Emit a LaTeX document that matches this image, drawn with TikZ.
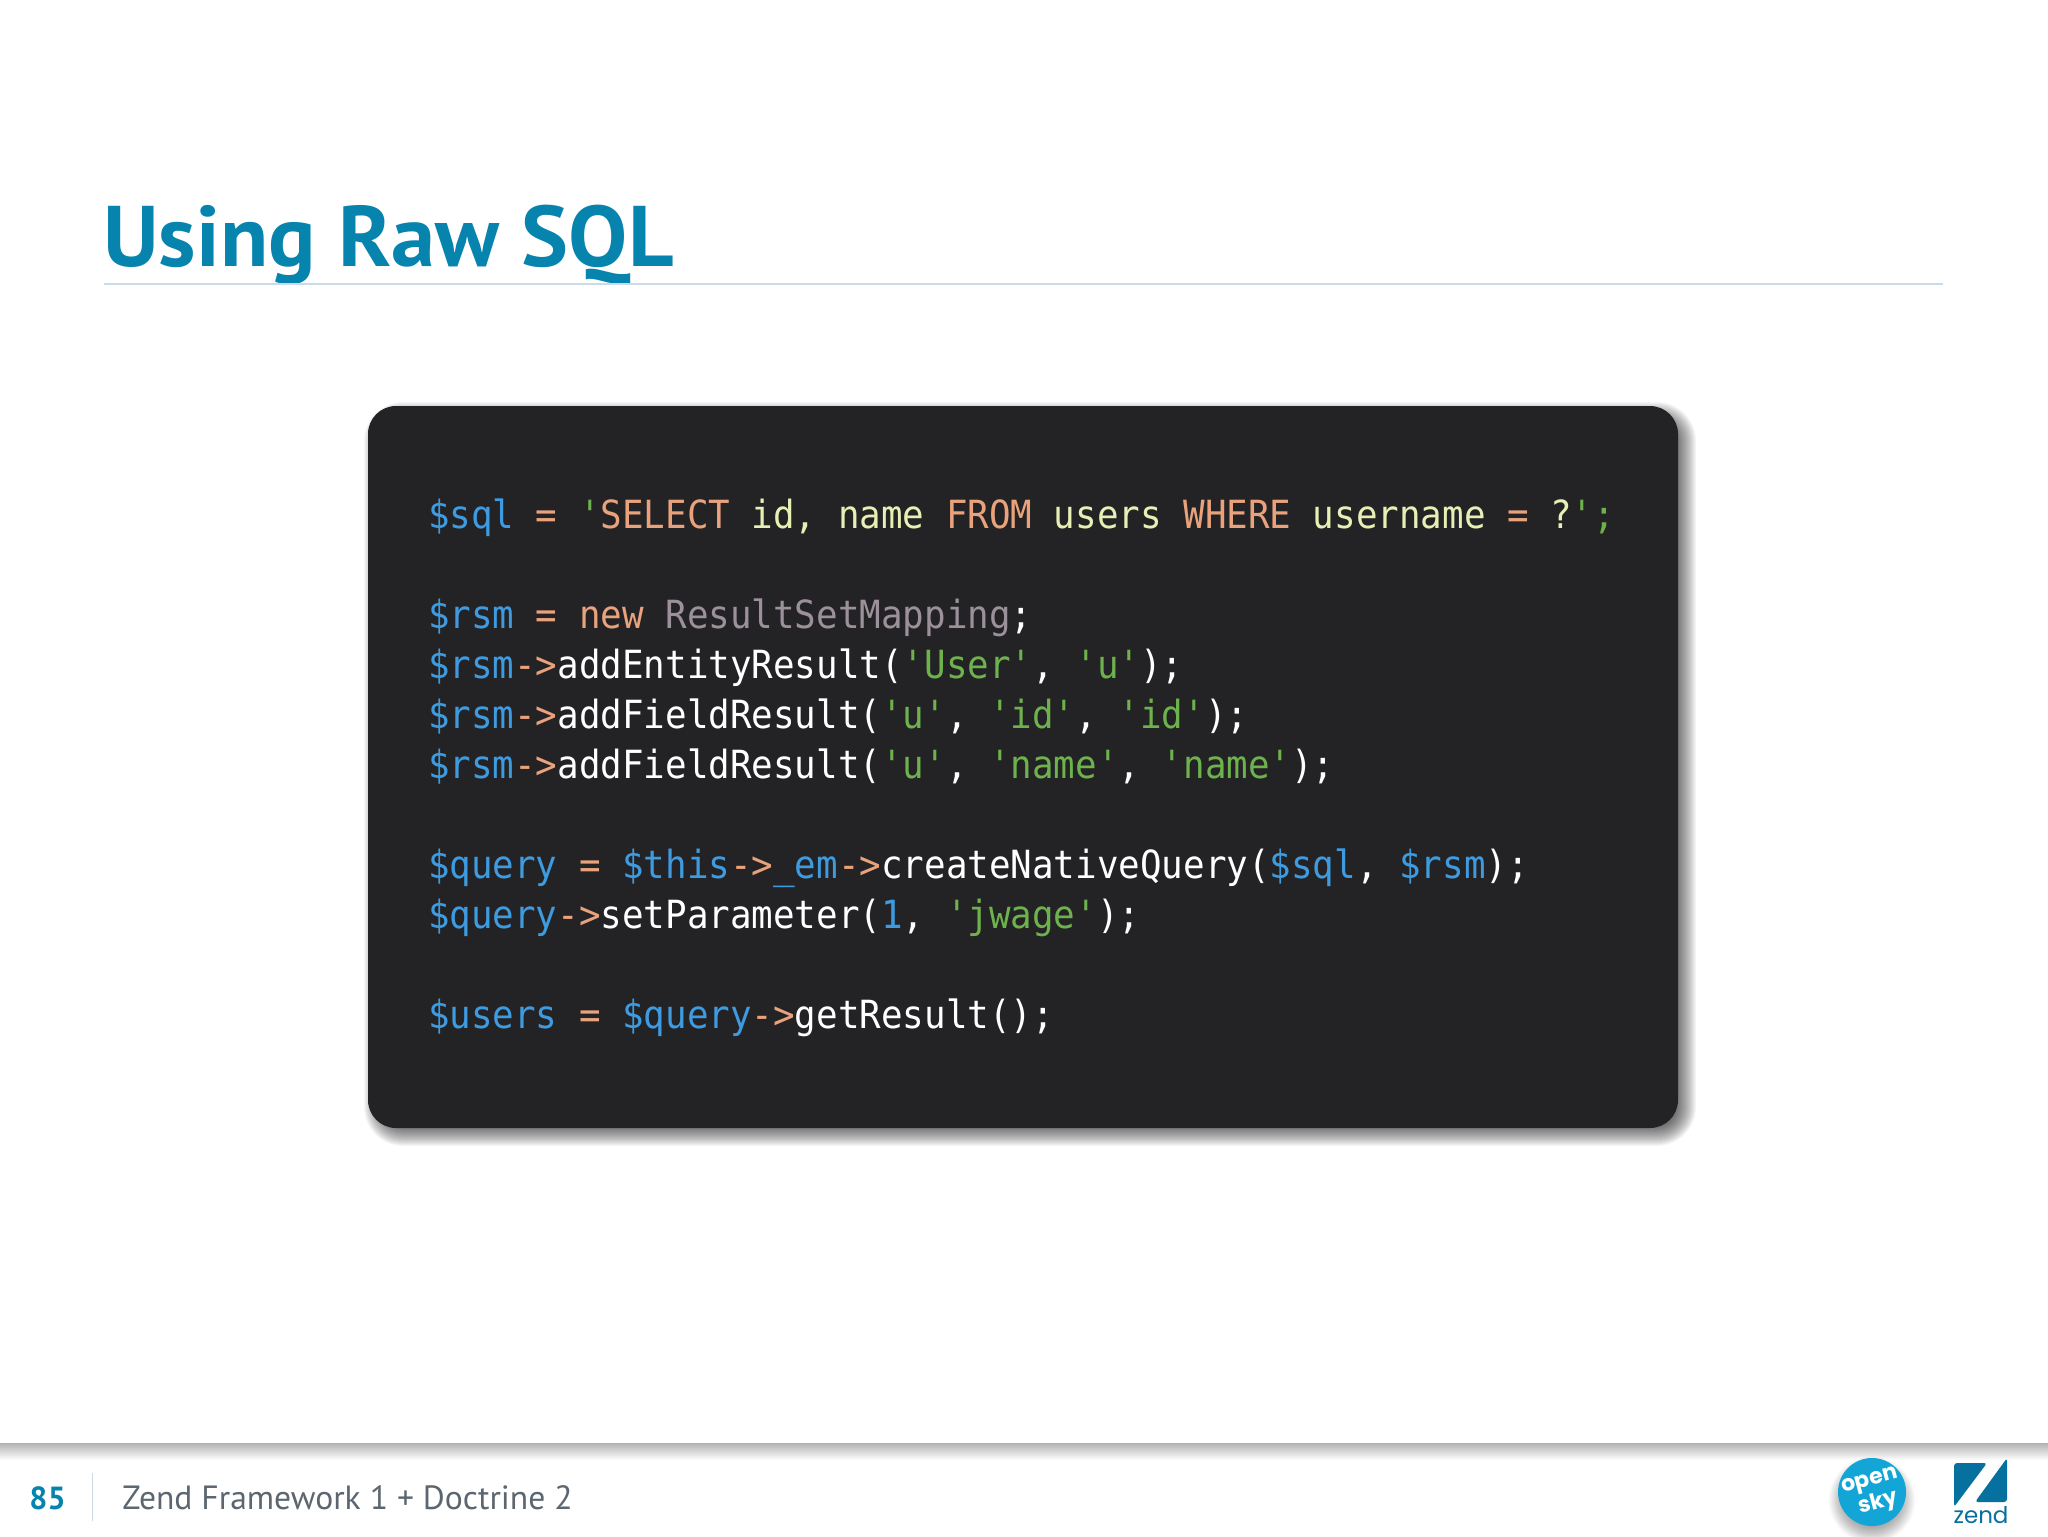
\documentclass[tikz,border=0pt]{standalone}
\usepackage{fontspec}
\usetikzlibrary{shadings,fadings}
\setmainfont{PT Sans}
\newfontfamily\titlefont[FakeStretch=1.03]{PT Sans}
\newfontfamily\codefont[FakeStretch=0.924]{DejaVu Sans Mono}
\newfontfamily\logofont{Poppins}
\definecolor{titleblue}{HTML}{0684AE}
\definecolor{rulecol}{HTML}{C9DAE9}
\definecolor{panel}{HTML}{232325}
\definecolor{cblue}{HTML}{3E9BE0}
\definecolor{corange}{HTML}{E9A27C}
\definecolor{cpale}{HTML}{E8EFB4}
\definecolor{cgreen}{HTML}{6DB24C}
\definecolor{cgrey}{HTML}{9C919A}
\definecolor{cwhite}{HTML}{FFFFFF}
\definecolor{footgrey}{HTML}{5B6670}
\definecolor{oskyblue}{HTML}{13A5D6}
\definecolor{zendblue}{HTML}{06709E}
\newcommand{\B}[1]{\textcolor{cblue}{#1}}
\newcommand{\Or}[1]{\textcolor{corange}{#1}}
\newcommand{\Pa}[1]{\textcolor{cpale}{#1}}
\newcommand{\G}[1]{\textcolor{cgreen}{#1}}
\newcommand{\Gy}[1]{\textcolor{cgrey}{#1}}
\newcommand{\Sq}{\char39 }
\tikzset{
  x=0.5pt,y=-0.5pt,
  codeline/.style={anchor=base west,inner sep=0pt,outer sep=0pt,text=cwhite,font=\codefont\fontsize{19.4pt}{24pt}\selectfont},
  oskytext/.style={rotate=15,inner sep=0pt,text=white,font=\logofont\bfseries\fontsize{11pt}{12pt}\selectfont},
}
\begin{document}
\begin{tikzpicture}
\useasboundingbox (0,0) rectangle (2048,1536);
\fill[white] (0,0) rectangle (2048,1536);
% title
\node[anchor=base west,inner sep=0pt,text=titleblue,font=\titlefont\bfseries\fontsize{43pt}{50pt}\selectfont] (title) at (103,266) {Using Raw SQL};
\coordinate (ruleL) at (104,283.5);
\coordinate (ruleR) at (1943,283.5);
\draw[rulecol,line width=1pt] (ruleL) -- (ruleR);
% panel shadow
\foreach \e in {-12,-11,...,11}{
  \pgfmathsetmacro{\rad}{max(4,14+\e*0.5)}
  \fill[black,opacity=0.036,rounded corners=\rad pt] ({368+7-\e},{406+7-\e}) rectangle ({1678+7+\e},{1128+7+\e});
}
\fill[panel,rounded corners=14pt] (368,406) rectangle (1678,1128);
% code
\node[codeline] (l1) at (428,528) {\B{\$sql} \Or{=} \G{\Sq}\Or{SELECT} \Pa{id, name} \Or{FROM} \Pa{users} \Or{WHERE} \Pa{username} \Or{=} \Pa{?}\G{\Sq;}};
\node[codeline] (l2) at (428,628) {\B{\$rsm} \Or{= new} \Gy{ResultSetMapping};};
\node[codeline] (l3) at (428,678) {\B{\$rsm}\Or{->}addEntityResult(\G{\Sq User\Sq}, \G{\Sq u\Sq});};
\node[codeline] (l4) at (428,728) {\B{\$rsm}\Or{->}addFieldResult(\G{\Sq u\Sq}, \G{\Sq id\Sq}, \G{\Sq id\Sq});};
\node[codeline] (l5) at (428,778) {\B{\$rsm}\Or{->}addFieldResult(\G{\Sq u\Sq}, \G{\Sq name\Sq}, \G{\Sq name\Sq});};
\node[codeline] (l6) at (428,878) {\B{\$query} \Or{=} \B{\$this}\Or{->}\B{\_em}\Or{->}createNativeQuery(\B{\$sql}, \B{\$rsm});};
\node[codeline] (l7) at (428,928) {\B{\$query}\Or{->}setParameter(\B{1}, \G{\Sq jwage\Sq});};
\node[codeline] (l8) at (428,1028) {\B{\$users} \Or{=} \B{\$query}\Or{->}getResult();};
% footer band
\shade[top color=black!30,bottom color=white] (0,1443) rectangle (2048,1460);
\node[anchor=base west,inner sep=0pt,text=titleblue,font=\bfseries\fontsize{16pt}{20pt}\selectfont] (pagenum) at (29,1509) {85};
\coordinate (sepT) at (92.5,1473);
\coordinate (sepB) at (92.5,1521);
\draw[rulecol,line width=0.7pt] (sepT) -- (sepB);
\node[anchor=base west,inner sep=0pt,text=footgrey,font=\fontsize{16.8pt}{20pt}\selectfont] (foot) at (122,1509) {Zend Framework 1 + Doctrine 2};
% open sky logo
\foreach \i in {0,...,18}{
  \fill[black,opacity=0.02] (1872,1500) circle ({27+\i*0.9});
}
\fill[oskyblue] (1872,1492) circle (34);
\node[oskytext] (osky1) at (1870,1482) {open};
\node[oskytext] (osky2) at (1878,1503) {sky};
% zend logo
\fill[zendblue,rounded corners=1.5pt] (1954,1463) -- (1987,1463) -- (1954,1507) -- cycle;
\fill[zendblue,rounded corners=1.5pt] (2007,1458) -- (2007,1502) -- (1975,1502) -- cycle;
\node[anchor=base,inner sep=0pt,text=zendblue,font=\logofont\fontsize{11.5pt}{14pt}\selectfont] (zend) at (1981,1523) {zend};
\end{tikzpicture}
\end{document}
